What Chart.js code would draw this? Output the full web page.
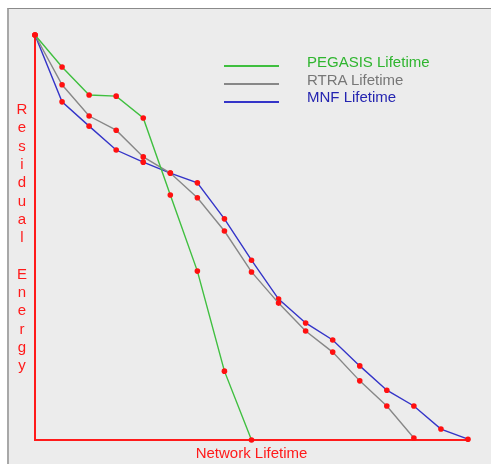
<!DOCTYPE html>
<html>
  <head>
    <script src="https://cdn.jsdelivr.net/npm/chart.js@4/dist/chart.umd.min.js"></script>
    <style>
      body { margin: 0; background: white; overflow: hidden; }
      #frame {
        position: absolute; left: 7px; top: 8px; width: 482px; height: 456px;
        background: #ececec; border-top: 1px solid #8a8a8a; border-left: 2px solid #a8a8a8;
      }
      #wrap { position: absolute; left: 0; top: 0; width: 491px; height: 464px; }
      .leg { position: absolute; font: 15px "Liberation Sans", Arial, sans-serif; }
      .legline { position: absolute; height: 2px; width: 55px; left: 224px; }
    </style>
  </head>
  <body>
    <div id="frame"></div>
    <div id="wrap"><canvas id="c" width="491" height="464"></canvas></div>
    <div id="legend"></div>
    <script>
      // network lifetime steps (x) and residual energy (% of start)
      const steps = [0, 1, 2, 3, 4, 5, 6, 7, 8, 9, 10, 11, 12, 13, 14, 15, 16];
      const pegasis = [100, 92.1, 85.2, 84.9, 79.5, 60.5, 41.7, 17.0, 0];
      const rtra = [100, 87.7, 80.0, 76.5, 69.9, 65.9, 59.8, 51.6, 41.5, 33.8, 26.9, 21.7, 14.6, 8.4, 0.5];
      const mnf = [100, 83.5, 77.5, 71.6, 68.6, 65.9, 63.5, 54.6, 44.4, 34.8, 28.9, 24.7, 18.3, 12.3, 8.4, 2.7, 0.2];

      const seriesNames = ["PEGASIS Lifetime", "RTRA Lifetime", "MNF Lifetime"];
      const lineColors = ["#3fbf3f", "#878787", "#3434c8"];
      const textColors = ["#2fb52f", "#777777", "#2424b0"];
      const yTitle = "Residual Energy";
      const xTitle = "Network Lifetime";

      function pts(vals) {
        return vals.map((v, i) => ({ x: steps[i], y: v }));
      }

      const titles = {
        id: "titles",
        afterDraw(chart) {
          const ctx = chart.ctx;
          ctx.save();
          ctx.fillStyle = "#ff1a1a";
          ctx.font = '15px "Liberation Sans", Arial, sans-serif';
          ctx.textAlign = "center";
          ctx.textBaseline = "middle";
          [...yTitle].forEach((ch, i) => {
            if (ch !== " ") ctx.fillText(ch, 22, 110 + i * 18.3);
          });
          ctx.fillText(xTitle, (chart.chartArea.left + chart.chartArea.right) / 2, 454);
          ctx.restore();
        },
      };

      const zeroFit = (s) => { s.width = 0; s.height = 0; };

      new Chart(document.getElementById("c"), {
        type: "line",
        data: {
          datasets: [pegasis, rtra, mnf].map((d, i) => ({
            label: seriesNames[i],
            data: pts(d),
            borderColor: lineColors[i],
            borderWidth: 1.4,
            pointRadius: 2.8,
            pointBackgroundColor: "#ff1010",
            pointBorderWidth: 0,
            tension: 0,
            clip: false,
          })),
        },
        options: {
          responsive: false,
          animation: false,
          layout: { padding: { left: 35, top: 35, right: 23, bottom: 24 } },
          plugins: { legend: { display: false }, tooltip: { enabled: false } },
          scales: {
            x: {
              type: "linear", min: 0, max: 16,
              grid: { display: false, drawTicks: false },
              ticks: { display: false },
              border: { color: "#ff1a1a", width: 2 },
              afterFit: zeroFit,
            },
            y: {
              min: 0, max: 100,
              grid: { display: false, drawTicks: false },
              ticks: { display: false },
              border: { color: "#ff1a1a", width: 2 },
              afterFit: zeroFit,
            },
          },
        },
        plugins: [titles],
      });

      const legend = document.getElementById("legend");
      seriesNames.forEach((name, i) => {
        const line = document.createElement("div");
        line.className = "legline";
        line.style.top = 66 + i * 18 - 1 + "px";
        line.style.background = lineColors[i];
        legend.appendChild(line);
        const t = document.createElement("div");
        t.className = "leg";
        t.textContent = name;
        t.style.left = "307px";
        t.style.top = 53 + i * 17.5 + "px";
        t.style.color = textColors[i];
        legend.appendChild(t);
      });
    </script>
  </body>
</html>
